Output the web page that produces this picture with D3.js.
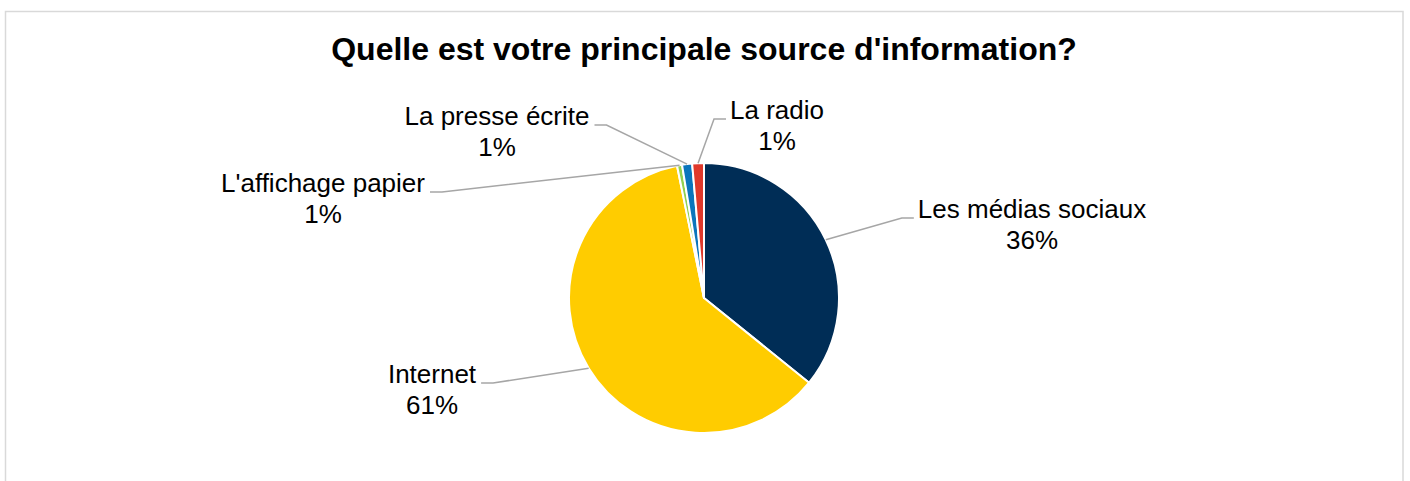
<!DOCTYPE html>
<html>
<head>
<meta charset="utf-8">
<script src="https://cdn.jsdelivr.net/npm/d3@7"></script>
<style>
  html, body { margin: 0; padding: 0; background: #fff; }
  svg { display: block; font-family: "Liberation Sans", Arial, sans-serif; }
</style>
</head>
<body>
<svg id="chart" width="1410" height="481"></svg>
<script>
// ---- data ----
const categories = ["Les médias sociaux", "Internet", "L'affichage papier", "La presse écrite", "La radio"];
const values = [35.8, 61.0, 0.6, 1.2, 1.4];
const percentLabels = ["36%", "61%", "1%", "1%", "1%"];
const colors = ["#002D56", "#FFCC00", "#92D050", "#0A75BC", "#E0392B"];
const title = "Quelle est votre principale source d'information?";

// ---- layout (positions of labels, not data) ----
const labelLayout = [
  { cx: 1032, y: 218, side: "right" },
  { cx: 432,  y: 383, side: "left" },
  { cx: 323,  y: 192, side: "left" },
  { cx: 497,  y: 125, side: "left" },
  { cx: 777,  y: 119, side: "right" }
];

const W = 1410, H = 481;
const cx = 704, cy = 298, R = 135;
const svg = d3.select("#chart");

// border
svg.append("rect")
  .attr("x", 5.5).attr("y", 11.5)
  .attr("width", 1397.5).attr("height", 500)
  .attr("fill", "#fff").attr("stroke", "#d9d9d9").attr("stroke-width", 1.5);

// title
const t = svg.append("text")
  .attr("x", 704).attr("y", 60)
  .attr("text-anchor", "middle")
  .attr("font-weight", "bold")
  .attr("font-size", 32)
  .attr("fill", "#000")
  .text(title);

const pie = d3.pie().sort(null).value(d => d.v);
const data = pie(categories.map((c, i) => ({ c, v: values[i], i })));
const arc = d3.arc().innerRadius(0).outerRadius(R);

const g = svg.append("g").attr("transform", `translate(${cx},${cy})`);
g.selectAll("path.slice")
  .data(data)
  .enter().append("path")
  .attr("class", "slice")
  .attr("d", arc)
  .attr("fill", d => colors[d.data.i])
  .attr("stroke", "#fff")
  .attr("stroke-width", 2)
  .attr("stroke-linejoin", "round");

// labels
const lineH = 30.5;
const labels = svg.append("g").attr("font-size", 26).attr("fill", "#000");
data.forEach(d => {
  const i = d.data.i;
  const L = labelLayout[i];
  const txt = labels.append("text")
    .attr("text-anchor", "middle");
  const l1 = txt.append("tspan").attr("x", L.cx).attr("y", L.y).text(categories[i]);
  txt.append("tspan").attr("x", L.cx).attr("y", L.y + lineH).text(percentLabels[i]);
  const w1 = l1.node().getComputedTextLength();
  const mid = (d.startAngle + d.endAngle) / 2;
  const px = cx + R * Math.sin(mid), py = cy - R * Math.cos(mid);
  let ex, elx;
  if (L.side === "left") { ex = L.cx + w1 / 2 + 5; elx = ex + 12; }
  else { ex = L.cx - w1 / 2 - 4; elx = ex - 12; }
  const ey = L.y;
  svg.append("polyline")
    .attr("points", `${ex},${ey} ${elx},${ey} ${px},${py}`)
    .attr("fill", "none")
    .attr("stroke", "#a6a6a6")
    .attr("stroke-width", 1.5);
});
</script>
</body>
</html>
